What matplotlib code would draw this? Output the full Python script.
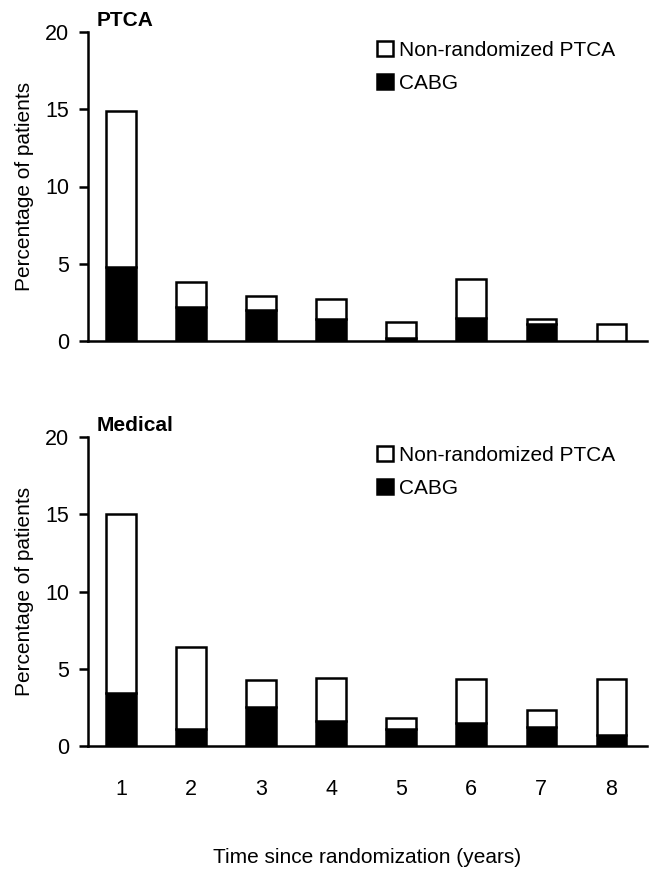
import matplotlib
matplotlib.use("Agg")
import matplotlib.pyplot as plt

plt.rcParams['font.family'] = ['Liberation Sans', 'DejaVu Sans']

years = [1, 2, 3, 4, 5, 6, 7, 8]
tick_labels = ["1", "2", "3", "4", "5", "6", "7", "8"]

# PTCA panel
ptca_cabg = [4.8, 2.2, 2.0, 1.4, 0.2, 1.5, 1.1, 0.0]
ptca_nonrand = [10.1, 1.6, 0.9, 1.3, 1.0, 2.5, 0.35, 1.1]

# Medical panel
med_cabg = [3.4, 1.1, 2.5, 1.6, 1.1, 1.5, 1.2, 0.7]
med_nonrand = [11.6, 5.3, 1.8, 2.8, 0.7, 2.85, 1.15, 3.65]

panels = [("PTCA", ptca_cabg, ptca_nonrand), ("Medical", med_cabg, med_nonrand)]

W, H = 651, 876
fig = plt.figure(figsize=(W / 100, H / 100), dpi=100)

ax_left = 88 / W
ax_w = (647 - 88) / W
axes_px = [(32, 341), (437, 746)]

FS = 15
TFS = 15.5
LW = 1.8

for (title, cabg, nonrand), (top, bot) in zip(panels, axes_px):
    ax = fig.add_axes([ax_left, 1 - bot / H, ax_w, (bot - top) / H])
    b1 = ax.bar(years, cabg, width=0.42, color='black', edgecolor='black', linewidth=LW,
                label='CABG', zorder=3)
    b2 = ax.bar(years, nonrand, bottom=cabg, width=0.42, color='white', edgecolor='black',
                linewidth=LW, label='Non-randomized PTCA', zorder=3)
    ax.set_xlim(0.53, 8.51)
    ax.set_ylim(0, 20)
    ax.set_yticks([0, 5, 10, 15, 20])
    ax.spines['top'].set_visible(False)
    ax.spines['right'].set_visible(False)
    ax.spines['left'].set_linewidth(LW)
    ax.spines['bottom'].set_linewidth(LW)
    ax.tick_params(axis='y', direction='out', length=6.5, width=LW, labelsize=TFS, pad=7)
    ax.set_ylabel("Percentage of patients", fontsize=FS, labelpad=8)
    ax.set_xticks(years)
    if title == "Medical":
        ax.set_xticklabels(tick_labels, fontsize=TFS)
        ax.tick_params(axis='x', length=0, pad=24)
        ax.set_xlabel("Time since randomization (years)", fontsize=FS, labelpad=34)
    else:
        ax.tick_params(axis='x', length=0, labelbottom=False)
    fig.text(97 / W, 1 - (top - 11) / H, title, fontsize=15, fontweight='bold',
             ha='left', va='center')
    leg = ax.legend(handles=[b2, b1], labels=['Non-randomized PTCA', 'CABG'],
                    loc='upper left', bbox_to_anchor=(377 / W, 1 - (top + 9) / H),
                    bbox_transform=fig.transFigure, frameon=False, fontsize=FS,
                    handlelength=0.75, handleheight=0.75, handletextpad=0.3,
                    labelspacing=0.65, borderpad=0, borderaxespad=0)

fig.savefig("out.png", dpi=100)
